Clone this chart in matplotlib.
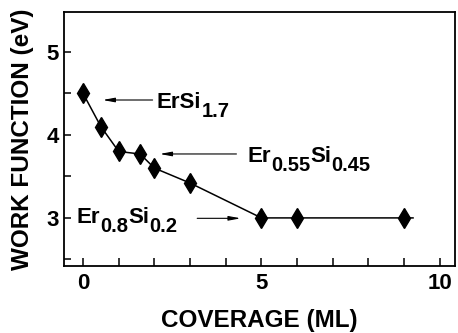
import matplotlib
matplotlib.use('Agg')
import matplotlib.pyplot as plt
from matplotlib.ticker import MultipleLocator

# Measured work function vs Er coverage
coverage = [0, 0.5, 1, 1.6, 2, 3, 5, 6, 9]
work_function = [4.5, 4.1, 3.8, 3.77, 3.6, 3.42, 3.0, 3.0, 3.0]
# Guide line through the points, running a little past the last one
line_x = coverage + [9.25]
line_y = work_function + [3.0]

# Phase labels as (text, is_subscript) pieces
phase_labels = [
    [('ErSi', False), ('1.7', True)],
    [('Er', False), ('0.55', True), ('Si', False), ('0.45', True)],
    [('Er', False), ('0.8', True), ('Si', False), ('0.2', True)],
]
label_xy = [(2.07, 4.325), (4.62, 3.675), (-0.17, 2.94)]
arrow_from = [(1.95, 4.42), (4.3, 3.77), (3.2, 2.995)]
arrow_to = [(0.55, 4.42), (2.15, 3.77), (4.42, 2.995)]

plt.rcParams['font.family'] = ['Liberation Sans', 'DejaVu Sans']
plt.rcParams['font.weight'] = 'bold'
plt.rcParams['axes.labelweight'] = 'bold'

MAIN_SIZE = 16
SUB_SIZE = 14.5
SUB_DROP = 6  # points


def chem_label(ax, x, y, pieces):
    # first piece sits at the data position, the rest follow on
    prev = None
    prev_sub = False
    for s, sub in pieces:
        size = SUB_SIZE if sub else MAIN_SIZE
        if prev is None:
            prev = ax.text(x, y, s, fontsize=size, va='baseline', ha='left')
        else:
            dy = 0
            if sub and not prev_sub:
                dy = -SUB_DROP
            elif prev_sub and not sub:
                dy = SUB_DROP
            prev = ax.annotate(s, xy=(1, 0), xycoords=prev,
                               xytext=(0, dy), textcoords='offset points',
                               fontsize=size, va='bottom', ha='left')
        prev_sub = sub


def main():
    fig = plt.figure(figsize=(4.58, 3.33), dpi=100)
    ax = fig.add_axes([0.14, 0.201, 0.853, 0.763])

    ax.plot(line_x, line_y, color='black', lw=1.1)
    ax.plot(coverage, work_function, ls='none', marker='d', ms=10.5,
            color='black')

    for pieces, xy, a, b in zip(phase_labels, label_xy, arrow_from, arrow_to):
        chem_label(ax, xy[0], xy[1], pieces)
        ax.annotate('', xy=b, xytext=a,
                    arrowprops=dict(arrowstyle='-|>,head_length=0.7,head_width=0.13',
                                    color='black', lw=0.8, shrinkA=0,
                                    shrinkB=0))

    ax.set_xlim(-0.53, 10.42)
    ax.set_ylim(2.42, 5.48)
    ax.xaxis.set_major_locator(MultipleLocator(5))
    ax.xaxis.set_minor_locator(MultipleLocator(1))
    ax.yaxis.set_major_locator(MultipleLocator(1))
    ax.yaxis.set_minor_locator(MultipleLocator(0.5))
    ax.tick_params(which='both', direction='in', top=False, right=False,
                   width=1.1, labelsize=16)
    ax.tick_params(axis='x', which='both', length=6, pad=5)
    ax.tick_params(axis='y', which='both', length=5, pad=4)
    for s in ax.spines.values():
        s.set_linewidth(1.3)

    ax.set_xlabel('COVERAGE (ML)', fontsize=17.5, labelpad=11)
    ax.set_ylabel('WORK FUNCTION (eV)', fontsize=17.5, labelpad=9)

    fig.savefig('out.png', dpi=100)


if __name__ == '__main__':
    main()
